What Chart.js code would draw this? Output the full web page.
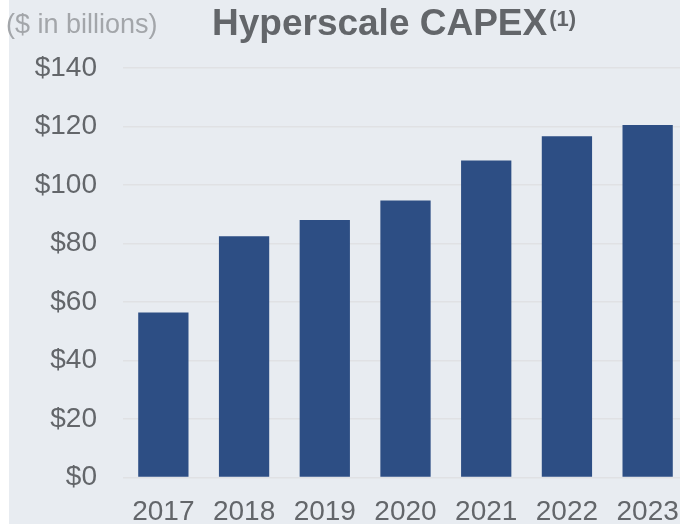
<!DOCTYPE html>
<html>

<head>
  <title>Hyperscale CAPEX</title>
  <script src="https://cdn.jsdelivr.net/npm/chart.js"></script>
  <style>
    html, body { margin: 0; padding: 0; overflow: hidden; background: #ffffff; }
  </style>
</head>

<body>
  <canvas id="capexChart" width="700" height="539"></canvas>
  <script>
    // Data ($ in billions)
    const years = ['2017', '2018', '2019', '2020', '2021', '2022', '2023'];
    const capex = [56.4, 82.5, 88.0, 94.7, 108.4, 116.7, 120.5];
    const yTicks = [0, 20, 40, 60, 80, 100, 120, 140];

    const FONT = 'Arial, "Liberation Sans", sans-serif';

    // background panel + title text
    const decor = {
      id: 'decor',
      beforeDraw(chart) {
        const c = chart.ctx;
        c.save();
        c.fillStyle = '#ffffff';
        c.fillRect(0, 0, chart.width, chart.height);
        c.fillStyle = '#E8ECF1';
        c.fillRect(9, 0, chart.width - 9, chart.height);
        c.restore();
      },
      afterDraw(chart) {
        const c = chart.ctx;
        c.save();
        c.textBaseline = 'alphabetic';
        c.textAlign = 'left';

        c.fillStyle = '#A3A6AA';
        c.font = '27px ' + FONT;
        c.fillText('($ in billions)', 6, 33);

        c.fillStyle = '#63666A';
        c.font = 'bold 37px ' + FONT;
        const title = 'Hyperscale CAPEX';
        c.fillText(title, 212, 35);
        const w = c.measureText(title).width;
        c.font = 'bold 22px ' + FONT;
        c.fillText('(1)', 212 + w + 2, 26);
        c.restore();
      }
    };

    const ctx = document.getElementById('capexChart').getContext('2d');
    const chart = new Chart(ctx, {
      type: 'bar',
      data: {
        labels: years,
        datasets: [{
          label: 'CAPEX',
          data: capex,
          backgroundColor: '#2D4E84',
          borderWidth: 0,
          categoryPercentage: 1,
          barPercentage: 0.623
        }]
      },
      options: {
        responsive: false,
        animation: false,
        layout: { padding: { top: 68, right: 12, left: 0, bottom: 0 } },
        plugins: {
          legend: { display: false },
          tooltip: { enabled: false }
        },
        scales: {
          x: {
            grid: { display: false },
            border: { display: false },
            ticks: {
              color: '#63666A',
              font: { family: FONT, size: 28 },
              padding: 10,
              maxRotation: 0
            }
          },
          y: {
            min: 0,
            max: 140,
            afterFit(scale) { scale.width = 123; },
            afterBuildTicks(scale) { scale.ticks = yTicks.map(v => ({ value: v })); },
            grid: { color: '#E0E1E4', lineWidth: 1.5, drawTicks: false },
            border: { display: false },
            ticks: {
              color: '#63666A',
              font: { family: FONT, size: 28 },
              padding: 26,
              callback: v => '$' + v
            }
          }
        }
      },
      plugins: [decor]
    });
  </script>
</body>

</html>
